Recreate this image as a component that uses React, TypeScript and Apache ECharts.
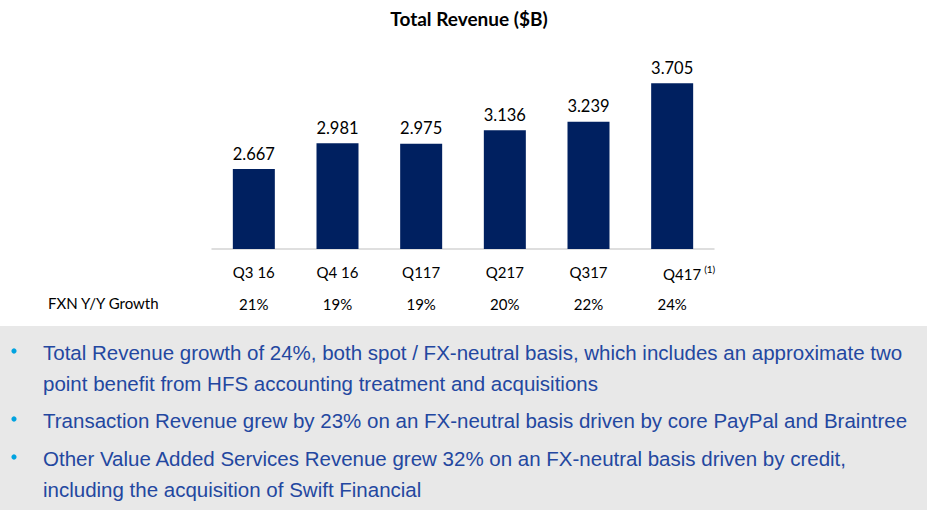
import React, { useEffect, useRef } from "react";
import * as echarts from "echarts";

const categories = ["Q3 16", "Q4 16", "Q117", "Q217", "Q317", "Q417"];
const revenue = [2.667, 2.981, 2.975, 3.136, 3.239, 3.705];
const growth = ["21%", "19%", "19%", "20%", "22%", "24%"];
const footnoteCategory = "Q417";
const footnote = "(1)";
const titleText = "Total Revenue ($B)";
const growthRowLabel = "FXN Y/Y Growth";
const bulletLines = [
  { bullet: true, text: "Total Revenue growth of 24%, both spot / FX-neutral basis, which includes an approximate two" },
  { bullet: false, text: "point benefit from HFS accounting treatment and acquisitions" },
  { bullet: true, text: "Transaction Revenue grew by 23% on an FX-neutral basis driven by core PayPal and Braintree" },
  { bullet: true, text: "Other Value Added Services Revenue grew 32% on an FX-neutral basis driven by credit," },
  { bullet: false, text: "including the acquisition of Swift Financial" },
];

const CHART_FONT = "Lato, 'Open Sans', sans-serif";
const BULLET_FONT = "'Liberation Sans', Arial, sans-serif";

export default function App() {
  const ref = useRef<HTMLDivElement>(null);
  useEffect(() => {
    if (!ref.current) return;
    const chart = echarts.init(ref.current, null, { renderer: "svg" });
    const lineY = [352, 383, 420, 458, 489];
    const bulletGraphics: any[] = [];
    bulletLines.forEach((l, i) => {
      if (l.bullet) {
        bulletGraphics.push({
          type: "circle",
          shape: { cx: 14, cy: lineY[i] - 1, r: 2.6 },
          style: { fill: "#00a3e0" },
        });
      }
      bulletGraphics.push({
        type: "text",
        x: 43,
        y: lineY[i],
        style: {
          text: l.text,
          fill: "#2347a0",
          font: `20.5px ${BULLET_FONT}`,
          verticalAlign: "middle",
        },
      });
    });
    chart.setOption({
      animation: false,
      backgroundColor: "#ffffff",
      title: {
        text: titleText,
        left: 464,
        top: 4,
        textAlign: "center",
        textStyle: { fontFamily: CHART_FONT, fontWeight: "bold", fontSize: 19, color: "#000" },
      },
      grid: { left: 212, top: 59, width: 502, height: 190, containLabel: false },
      xAxis: [
        {
          type: "category",
          data: categories,
          axisLine: { lineStyle: { color: "#d4d4d4", width: 1.5 } },
          axisTick: { show: false },
          axisLabel: {
            interval: 0,
            margin: 15,
            fontFamily: CHART_FONT,
            fontSize: 15,
            color: "#000",
            formatter: (v: string) => (v === footnoteCategory ? `{pad|${v}}{sup|${footnote}}` : v),
            rich: {
              pad: { padding: [0, 0, 0, 34], fontFamily: CHART_FONT, fontSize: 15, color: "#000" },
              sup: { fontFamily: CHART_FONT, fontSize: 10, color: "#000", verticalAlign: "top", padding: [0, 0, 9, 3] },
            },
          },
        },
        {
          type: "category",
          data: growth,
          position: "bottom",
          offset: 32,
          axisLine: { show: false },
          axisTick: { show: false },
          axisLabel: { interval: 0, margin: 15, fontFamily: CHART_FONT, fontSize: 15, color: "#000" },
        },
      ],
      yAxis: { type: "value", min: 1.7, max: 4.0, show: false, splitLine: { show: false } },
      series: [
        {
          type: "bar",
          data: revenue,
          barWidth: 42,
          itemStyle: { color: "#002060" },
          label: {
            show: true,
            position: "top",
            distance: 7,
            fontFamily: CHART_FONT,
            fontSize: 16.5,
            color: "#000",
            formatter: (p: any) => p.value.toFixed(3),
          },
        },
      ],
      graphic: [
        {
          type: "text",
          x: 48,
          y: 303,
          style: { text: growthRowLabel, font: `15px ${CHART_FONT}`, fill: "#000", verticalAlign: "middle" },
        },
        {
          type: "rect",
          z: -1,
          shape: { x: 0, y: 326, width: 927, height: 184 },
          style: { fill: "#e8e8e8" },
        },
        ...bulletGraphics,
      ],
    });
    return () => chart.dispose();
  }, []);
  return <div ref={ref} style={{ position: "fixed", left: 0, top: 0, width: 927, height: 510 }} />;
}
